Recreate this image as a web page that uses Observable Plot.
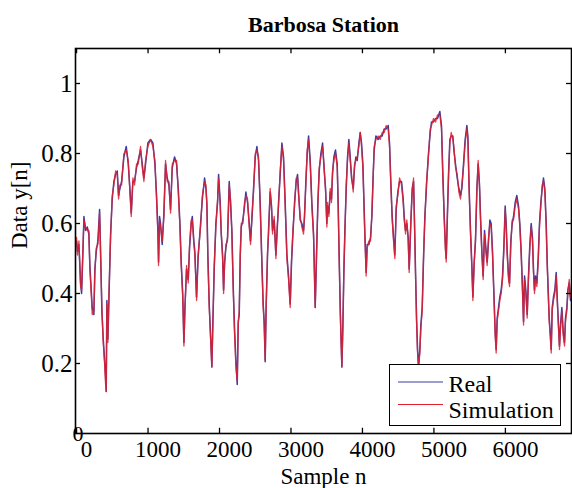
<!DOCTYPE html>
<html>
<head>
<meta charset="utf-8">
<script src="https://cdn.jsdelivr.net/npm/d3@7"></script>
<script src="https://cdn.jsdelivr.net/npm/@observablehq/plot@0.6"></script>
<style>
  html, body { margin: 0; padding: 0; background: #fff; }
  #wrap { position: relative; width: 572px; height: 488px; overflow: hidden; }
  #legend { position: absolute; left: 389px; top: 364px; width: 172px; height: 62px;
            box-sizing: border-box; border: 1px solid #000; background: #fff; }
  #legend svg { display: block; }
</style>
</head>
<body>
<div id="wrap"></div>
<script>
// ---- data ----
const chartTitle = "Barbosa Station";
const xLabel = "Sample n";
const yLabel = "Data y[n]";
const seriesNames = ["Real", "Simulation"];
const seriesColors = ["#3c3ca0", "#e41e2b"];
const xTicks = [0, 1000, 2000, 3000, 4000, 5000, 6000];
const yTicks = [0.2, 0.4, 0.6, 0.8, 1];
const xDomain = [-15, 6925];
const yDomain = [0, 1.1];

const sampleN = [
  0,12,33,56,70,89,103,126,149,172,186,205,219,242,256,275,298,322,336,354,373,392,406,415,424,438,452,476,499,
  522,546,569,588,606,630,662,695,723,746,765,788,811,839,863,895,919,942,965,998,1035,1068,1096,1119,1138,1147,1161,1175,1198,1222,1245,1268,1292,1315,1339,1371,1399,1423,1446,1464,
  1485,1502,1516,1539,1562,1581,1604,1619,1641,1655,1679,1700,1735,1760,1791,1810,1823,1837,1856,1875,1893,1907,1926,1949,1973,1987,
  2010,2024,2043,2057,2071,2089,2112,2136,2154,2173,2192,2210,2229,2248,2262,2276,2290,2304,2327,2350,2369,2392,2416,2434,2453,2476,2500,
  2523,2546,2569,2593,2611,2625,2639,2653,2672,2686,2709,2728,2742,2765,2789,2807,2826,2849,2873,2896,2919,2943,2966,2989,3008,
  3027,3050,3073,3092,3106,3129,3152,3176,3190,3208,3227,3246,3269,3292,3316,3339,3358,3376,3395,3418,
  3442,3465,3484,3502,3511,3530,3549,3567,3581,3600,3623,3647,3661,3675,3689,3698,3712,3726,3740,3754,3773,3791,3810,
  3829,3847,3871,3889,3908,3927,3950,3969,3987,4006,4020,4034,4052,4066,4090,4113,4132,4150,4164,4188,4220,4248,4276,4304,4332,4360,
  4379,4397,4416,4435,4453,4472,4495,4519,4547,4570,4584,4603,4621,4640,4654,4677,4696,4715,4729,4743,4757,4771,4785,
  4803,4817,4836,4855,4873,4897,4920,4948,4966,4994,5022,5050,5083,5106,5125,5144,5162,
  5172,5186,5204,5223,5242,5265,5279,5302,5326,5349,5372,5391,5414,5437,5461,5475,5493,5512,5531,5545,
  5563,5582,5601,5619,5638,5652,5671,5689,5708,5727,5745,5764,5783,5801,5820,5838,5857,5871,5885,5904,5922,5941,5960,5978,
  5997,6011,6025,6044,6058,6076,6095,6114,6137,6160,6184,6202,6221,6240,6254,6268,6286,6305,6323,6342,6361,6379,6393,6407,6421,6440,
  6459,6477,6496,6515,6533,6552,6571,6585,6599,6613,6627,6641,6655,6673,6692,6711,6725,6743,6757,6771,6790,6809,6827,6841,6860,6874,6893,6911
];

const realY = [
  0.55,0.52,0.54,0.43,0.40,0.52,0.62,0.58,0.59,0.57,0.48,0.41,0.36,0.34,0.47,0.52,0.55,0.64,0.52,0.35,0.27,0.21,0.16,0.12,0.38,0.27,0.38,0.57,0.67,
  0.72,0.74,0.75,0.68,0.70,0.72,0.79,0.82,0.77,0.70,0.63,0.72,0.72,0.76,0.78,0.81,0.77,0.73,0.77,0.83,0.84,0.83,0.77,0.68,0.58,0.49,0.62,0.60,0.54,0.63,0.77,0.73,0.71,0.64,0.76,0.79,0.77,0.70,0.60,0.49,
  0.40,0.26,0.36,0.47,0.44,0.53,0.60,0.62,0.55,0.52,0.39,0.50,0.60,0.67,0.73,0.70,0.66,0.51,0.37,0.28,0.19,0.32,0.47,0.60,0.66,0.74,
  0.66,0.57,0.51,0.41,0.49,0.53,0.56,0.72,0.66,0.58,0.42,0.30,0.21,0.14,0.32,0.34,0.51,0.59,0.61,0.65,0.69,0.66,0.60,0.55,0.61,0.70,0.79,
  0.82,0.78,0.66,0.49,0.37,0.32,0.205,0.37,0.51,0.58,0.69,0.65,0.58,0.61,0.51,0.58,0.66,0.74,0.83,0.79,0.66,0.51,0.45,0.37,0.49,
  0.57,0.66,0.72,0.74,0.69,0.61,0.60,0.58,0.62,0.72,0.80,0.85,0.78,0.66,0.57,0.36,0.51,0.66,0.75,0.80,
  0.83,0.75,0.70,0.60,0.65,0.63,0.69,0.67,0.74,0.79,0.81,0.77,0.65,0.50,0.36,0.29,0.19,0.31,0.46,0.58,0.70,0.79,0.84,
  0.79,0.73,0.70,0.76,0.79,0.78,0.83,0.86,0.83,0.77,0.67,0.57,0.46,0.54,0.54,0.56,0.62,0.74,0.81,0.85,0.84,0.85,0.85,0.87,0.87,0.88,
  0.83,0.72,0.62,0.56,0.51,0.64,0.69,0.72,0.72,0.67,0.62,0.58,0.60,0.56,0.47,0.60,0.70,0.72,0.60,0.46,0.33,0.24,0.19,
  0.24,0.31,0.36,0.50,0.62,0.71,0.79,0.86,0.89,0.89,0.90,0.90,0.92,0.88,0.74,0.62,0.53,
  0.50,0.60,0.74,0.84,0.85,0.85,0.81,0.77,0.73,0.70,0.68,0.70,0.77,0.84,0.88,0.85,0.70,0.58,0.48,0.39,
  0.49,0.55,0.70,0.77,0.71,0.62,0.52,0.45,0.58,0.53,0.49,0.55,0.61,0.60,0.52,0.41,0.29,0.24,0.33,0.36,0.39,0.41,0.45,0.53,
  0.65,0.60,0.52,0.45,0.43,0.55,0.60,0.62,0.66,0.68,0.65,0.60,0.52,0.41,0.32,0.45,0.41,0.34,0.45,0.54,0.60,0.56,0.47,0.41,0.45,0.43,
  0.50,0.60,0.66,0.70,0.73,0.70,0.60,0.49,0.41,0.33,0.29,0.24,0.36,0.39,0.41,0.46,0.39,0.31,0.25,0.31,0.36,0.29,0.26,0.33,0.36,0.41,0.43,0.38
];

const simY = [
  0.56,0.51,0.55,0.42,0.41,0.53,0.61,0.59,0.58,0.58,0.47,0.40,0.34,0.35,0.46,0.53,0.54,0.63,0.51,0.36,0.26,0.20,0.14,0.12,0.37,0.26,0.39,0.56,0.68,
  0.71,0.75,0.74,0.67,0.71,0.71,0.80,0.81,0.78,0.69,0.62,0.73,0.71,0.77,0.77,0.82,0.76,0.72,0.78,0.82,0.84,0.82,0.78,0.67,0.57,0.48,0.61,0.59,0.55,0.62,0.78,0.72,0.72,0.63,0.77,0.78,0.78,0.69,0.59,0.48,
  0.39,0.25,0.35,0.48,0.43,0.54,0.61,0.61,0.54,0.51,0.38,0.51,0.59,0.68,0.72,0.71,0.65,0.50,0.36,0.27,0.19,0.31,0.48,0.59,0.67,0.73,
  0.65,0.58,0.50,0.40,0.48,0.54,0.55,0.71,0.67,0.57,0.41,0.29,0.19,0.15,0.31,0.35,0.50,0.60,0.60,0.66,0.68,0.67,0.59,0.54,0.62,0.69,0.80,
  0.81,0.79,0.65,0.48,0.36,0.31,0.21,0.36,0.52,0.57,0.70,0.64,0.57,0.62,0.50,0.59,0.65,0.75,0.82,0.78,0.65,0.50,0.44,0.36,0.50,
  0.58,0.65,0.73,0.73,0.68,0.62,0.59,0.57,0.63,0.71,0.81,0.84,0.77,0.65,0.56,0.36,0.52,0.65,0.76,0.79,
  0.82,0.76,0.69,0.59,0.66,0.62,0.70,0.66,0.75,0.78,0.80,0.76,0.64,0.49,0.35,0.28,0.19,0.30,0.47,0.57,0.71,0.78,0.83,
  0.78,0.74,0.69,0.77,0.78,0.79,0.82,0.86,0.82,0.76,0.66,0.56,0.45,0.53,0.55,0.55,0.63,0.73,0.82,0.84,0.85,0.84,0.86,0.86,0.88,0.87,
  0.82,0.71,0.61,0.55,0.50,0.65,0.68,0.73,0.71,0.66,0.61,0.57,0.61,0.55,0.46,0.61,0.69,0.73,0.59,0.45,0.32,0.23,0.19,
  0.23,0.30,0.35,0.51,0.61,0.72,0.78,0.87,0.88,0.90,0.89,0.91,0.91,0.87,0.73,0.61,0.52,
  0.49,0.61,0.73,0.83,0.86,0.84,0.82,0.76,0.74,0.69,0.67,0.71,0.76,0.83,0.87,0.84,0.69,0.57,0.47,0.38,
  0.48,0.56,0.69,0.78,0.70,0.61,0.51,0.44,0.57,0.52,0.48,0.56,0.60,0.59,0.51,0.40,0.28,0.23,0.32,0.35,0.38,0.40,0.44,0.52,
  0.64,0.59,0.51,0.44,0.42,0.54,0.61,0.61,0.65,0.67,0.64,0.59,0.51,0.40,0.31,0.44,0.40,0.33,0.44,0.53,0.59,0.55,0.46,0.40,0.44,0.42,
  0.49,0.59,0.65,0.71,0.72,0.69,0.59,0.48,0.40,0.32,0.28,0.23,0.35,0.38,0.40,0.45,0.38,0.30,0.24,0.30,0.35,0.28,0.25,0.32,0.35,0.40,0.44,0.39
];

// ---- build table ----
const nRows = Math.min(sampleN.length, realY.length, simY.length);
const rows = d3.range(nRows).map(i => ({n: sampleN[i], real: realY[i], sim: simY[i]}));

const serif = "'Liberation Serif', 'Times New Roman', serif";
const tickLenX = 70;    // tick length in sample units (inward ticks)
const tickLenY = 0.015; // tick length in data units

const chart = Plot.plot({
  width: 572,
  height: 488,
  marginLeft: 75,
  marginRight: 1,
  marginTop: 48,
  marginBottom: 55,
  x: {domain: xDomain},
  y: {domain: yDomain},
  style: {fontFamily: serif, background: "#fff", color: "#000", overflow: "visible"},
  marks: [
    Plot.line(rows, {x: "n", y: "real", stroke: seriesColors[0], strokeWidth: 1.5}),
    Plot.line(rows, {x: "n", y: "sim", stroke: seriesColors[1], strokeWidth: 1.3, strokeOpacity: 0.85}),
    // inward ticks on all four sides
    Plot.ruleX(xTicks, {x: d => d, y1: yDomain[0], y2: yDomain[0] + tickLenY, stroke: "#000", strokeWidth: 1.3}),
    Plot.ruleX(xTicks, {x: d => d, y1: yDomain[1] - tickLenY, y2: yDomain[1], stroke: "#000", strokeWidth: 1.3}),
    Plot.ruleY(yTicks, {y: d => d, x1: xDomain[0], x2: xDomain[0] + tickLenX, stroke: "#000", strokeWidth: 1.3}),
    Plot.ruleY(yTicks, {y: d => d, x1: xDomain[1] - tickLenX, x2: xDomain[1], stroke: "#000", strokeWidth: 1.3}),
    Plot.frame({stroke: "#000", strokeWidth: 1.6}),
    Plot.axisX({ticks: xTicks, tickSize: 0, tickPadding: 7, fontSize: 23, dx: 10, tickFormat: d => String(d), label: null}),
    Plot.axisY({ticks: yTicks, tickSize: 0, tickPadding: 3, fontSize: 25, tickFormat: d => String(d), label: null}),
    Plot.text(["0"], {frameAnchor: "bottom-left", text: d => d, dx: 2.5, textAnchor: "middle", lineAnchor: "middle", fontSize: 22}),
    Plot.text([chartTitle], {frameAnchor: "top", text: d => d, dy: -24, fontSize: 22, fontWeight: "bold", lineAnchor: "middle"}),
    Plot.text([xLabel], {frameAnchor: "bottom", text: d => d, dy: 43.5, fontSize: 23, lineAnchor: "middle"}),
    Plot.text([yLabel], {frameAnchor: "left", text: d => d, dx: -55.5, dy: 8, rotate: -90, fontSize: 23, lineAnchor: "middle"})
  ]
});

const wrap = document.getElementById("wrap");
wrap.appendChild(chart);

// legend (box in lower right of the plot area)
const legend = document.createElement("div");
legend.id = "legend";
const NS = "http://www.w3.org/2000/svg";
const lsvg = document.createElementNS(NS, "svg");
lsvg.setAttribute("width", "170");
lsvg.setAttribute("height", "60");
const legendRows = [
  {name: seriesNames[0], color: seriesColors[0], ly: 17, ty: 27},
  {name: seriesNames[1], color: seriesColors[1], ly: 39.5, ty: 53}
];
for (const r of legendRows) {
  const ln = document.createElementNS(NS, "line");
  ln.setAttribute("x1", "8"); ln.setAttribute("x2", "53");
  ln.setAttribute("y1", r.ly); ln.setAttribute("y2", r.ly);
  ln.setAttribute("stroke", r.color); ln.setAttribute("stroke-width", "1.2");
  lsvg.appendChild(ln);
  const tx = document.createElementNS(NS, "text");
  tx.setAttribute("x", "58.5"); tx.setAttribute("y", r.ty);
  tx.setAttribute("font-family", serif); tx.setAttribute("font-size", "24");
  tx.setAttribute("fill", "#000");
  tx.textContent = r.name;
  lsvg.appendChild(tx);
}
legend.appendChild(lsvg);
wrap.appendChild(legend);
</script>
</body>
</html>
